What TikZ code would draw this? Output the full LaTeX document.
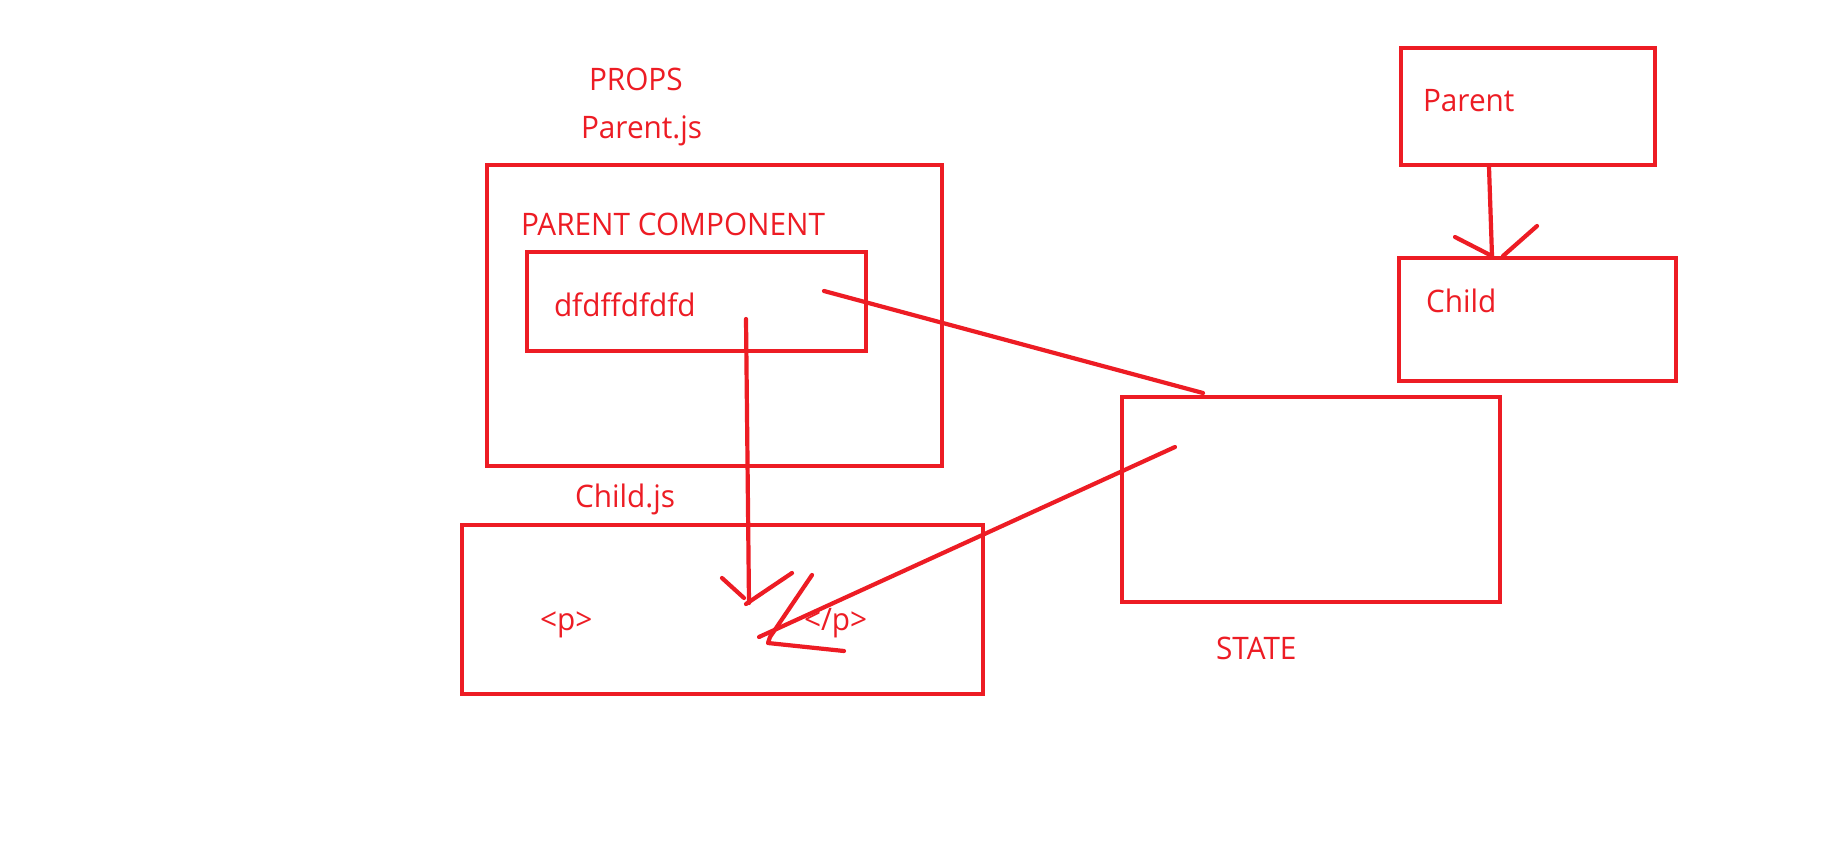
\documentclass[tikz,border=0pt]{standalone}
\usepackage{fontspec}
\setmainfont{Open Sans}[FakeStretch=0.96]
\definecolor{paintred}{HTML}{ED1C24}
\begin{document}
\begin{tikzpicture}[x=1pt,y=-1pt,
  box/.style={draw=paintred,line width=4.6pt,minimum width=#1,inner sep=0pt,outer sep=0pt},
  lbl/.style={text=paintred,inner sep=0pt,outer sep=0pt,anchor=base west,font=\fontsize{31}{31}\selectfont},
  stroke/.style={draw=paintred,line width=4.2pt,line cap=round,line join=round}]
\useasboundingbox[fill=white] (0,0) rectangle (1831,846);
% boxes
\node[box=455pt,minimum height=301pt] (outer) at (714.5,315.5) {};
\node[box=339pt,minimum height=99pt] (inner) at (696.5,301.5) {};
\node[box=521pt,minimum height=169pt] (bottom) at (722.5,609.5) {};
\node[box=378pt,minimum height=205pt] (state) at (1311,499.5) {};
\node[box=254pt,minimum height=117pt] (pr) at (1528,106.5) {};
\node[box=277pt,minimum height=123pt] (ch) at (1537.5,319.5) {};
% texts
\node[lbl] (props) at (589,90) {PROPS};
\node[lbl] (parentjs) at (581,138) {Parent.js};
\node[lbl] (pc) at (521,235) {PARENT COMPONENT};
\node[lbl] (dfd) at (554,316) {dfdffdfdfd};
\node[lbl] (childjs) at (575,507) {Child.js};
\node[lbl] (popen) at (540,630) {<p>};
\node[lbl] (pclose) at (804,630) {</p>};
\node[lbl] (statel) at (1216,659) {STATE};
\node[lbl] (parentl) at (1423,111) {Parent};
\node[lbl] (childl) at (1426,312) {Child};
% hand-drawn connector points
\coordinate (a1s) at (746,319);
\coordinate (a1e) at (749,603);
\coordinate (a1l) at (722,578);
\coordinate (a1lt) at (744,598);
\coordinate (a1r) at (792,573);
\coordinate (a1rt) at (746,604);
\coordinate (l2s) at (824,291);
\coordinate (l2e) at (1203,393);
\coordinate (a3s) at (1175,447);
\coordinate (a3e) at (759,637);
\coordinate (a3h1) at (812,575);
\coordinate (a3t) at (770,637);
\coordinate (a3h2) at (844,651);
\coordinate (a4s) at (1489,167);
\coordinate (a4e) at (1492,256);
\coordinate (a4l) at (1455,237);
\coordinate (a4r) at (1537,226);
\coordinate (a4rt) at (1503,256);
% connectors
\draw[stroke] (a1s) -- (a1e);
\draw[stroke] (a1l) -- (a1lt);
\draw[stroke] (a1rt) -- (a1r);
\draw[stroke] (l2s) -- (l2e);
\draw[stroke] (a3s) -- (a3e);
\draw[stroke] (a3h1) -- (a3t) -- (768,643) -- (a3h2);
\draw[stroke] (a4s) -- (a4e);
\draw[stroke] (a4l) -- (a4e);
\draw[stroke] (a4r) -- (a4rt);
\end{tikzpicture}
\end{document}
